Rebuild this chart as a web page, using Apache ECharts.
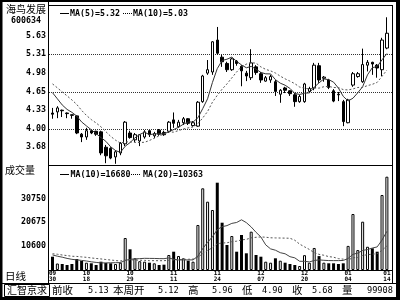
<!DOCTYPE html>
<html><head><meta charset="utf-8">
<script src="https://cdn.jsdelivr.net/npm/echarts@6/dist/echarts.min.js"></script>
<style>html,body{margin:0;padding:0;background:#fff}#c{width:400px;height:300px}</style>
</head><body><div id="c"></div>
<script>
// ---- data ----
const dates = ['09/30','10/08','10/11','10/12','10/13','10/14','10/15','10/18','10/19','10/20',
'10/21','10/22','10/25','10/26','10/27','10/28','10/29','11/01','11/02','11/03',
'11/04','11/05','11/08','11/09','11/10','11/11','11/12','11/15','11/16','11/17',
'11/18','11/19','11/22','11/23','11/24','11/25','11/26','11/29','11/30','12/01',
'12/02','12/03','12/06','12/07','12/08','12/09','12/10','12/13','12/14','12/15',
'12/16','12/17','12/20','12/21','12/22','12/23','12/24','12/27','12/28','12/29',
'12/30','01/04','01/05','01/06','01/07','01/10','01/11','01/12','01/13','01/14'];
const opens = [4.28,4.30,4.33,4.28,4.25,4.23,3.91,3.86,3.97,3.96,
3.95,3.68,3.66,3.51,3.58,3.74,3.93,3.81,3.79,3.86,
3.97,3.88,3.98,3.94,3.96,4.16,4.04,4.11,4.18,4.06,
4.05,4.48,4.98,5.00,5.56,5.26,5.15,5.04,5.19,5.10,
4.98,4.90,5.09,4.97,4.84,4.86,4.83,4.61,4.72,4.67,
4.60,4.48,4.48,4.66,4.72,5.11,4.89,4.86,4.67,4.61,
4.48,4.11,4.77,4.92,4.83,5.12,5.17,5.12,5.04,5.42];
const closes = [4.26,4.37,4.32,4.27,4.24,3.93,3.86,3.97,3.93,3.91,
3.58,3.53,3.49,3.60,3.75,4.12,3.85,3.90,3.90,3.95,
3.90,3.92,3.91,3.90,4.12,4.10,4.12,4.18,4.10,4.11,
4.47,4.93,5.04,5.53,5.33,5.18,5.04,5.23,5.15,5.02,
4.93,5.16,4.99,4.86,4.90,4.92,4.66,4.68,4.68,4.62,
4.48,4.57,4.79,4.71,5.12,4.86,4.91,4.73,4.49,4.60,
4.13,4.51,4.97,4.97,5.13,5.17,5.14,5.07,5.56,5.68];
const lows = [4.18,4.19,4.21,4.19,4.18,3.91,3.77,3.81,3.91,3.88,
3.54,3.40,3.47,3.39,3.54,3.70,3.83,3.77,3.70,3.83,
3.86,3.84,3.88,3.88,3.93,4.02,4.02,4.07,4.07,4.04,
4.04,4.46,4.95,4.95,5.30,5.09,5.00,5.02,5.11,4.75,
4.84,4.86,4.95,4.81,4.83,4.81,4.58,4.46,4.63,4.58,
4.39,4.46,4.46,4.63,4.68,4.81,4.83,4.70,4.47,4.49,
4.05,4.10,4.74,4.90,4.81,5.01,4.95,4.90,4.93,5.40];
const highs = [4.37,4.40,4.34,4.29,4.25,4.24,3.93,4.02,3.98,3.97,
3.97,3.72,3.68,3.63,3.77,4.14,3.97,3.93,3.91,3.98,
3.98,3.95,4.00,3.97,4.14,4.29,4.16,4.21,4.19,4.14,
4.49,4.95,5.21,5.54,5.79,5.30,5.18,5.25,5.21,5.12,
5.02,5.40,5.12,5.00,4.93,4.95,4.86,4.70,4.74,4.68,
4.63,4.60,4.81,4.74,5.16,5.16,4.93,4.88,4.70,4.65,
4.51,4.53,5.00,5.00,5.41,5.21,5.18,5.14,5.60,5.96];
const volumes = [5739,2800,2589,2158,2589,4747,3884,3150,2890,2158,
3581,3020,2890,2589,3150,13808,8932,5048,3800,3600,
3150,2890,2158,2300,6472,7896,6041,5048,4013,3581,
19418,35254,29471,25890,37670,20410,10788,14671,7896,15103,
7206,16526,6472,5739,3581,3150,5048,4013,3150,2589,
2158,1726,6400,3157,9500,6000,3150,2890,2890,2589,
2890,10400,24164,8597,20841,10026,9364,7896,32363,40259];
// closes / volumes before 09/30 (off-chart), estimated from where the MA lines start
const priorCloses = [5.06,5.03,4.97,4.95,4.72,4.90,4.86,4.66,4.50];
const priorVolumes = [6800,9200,7100,8400,6300,7900,6900,8100,7000,7300,8200,6900,7400,6636,7100,6200,5600,6425,4800];
const priceTicks = [3.68,4.00,4.33,4.65,4.98,5.31,5.63];
const priceTickLabels = ['3.68','4.00','4.33','4.65','4.98','5.31','5.63'];
const priceGridValues = [4.00,4.65,5.31];
const volTicks = [10600,20675,30750];
const volTickLabels = ['10600','20675','30750'];
const dateLabelIdx = [0,7,16,25,34,43,52,61,69];
const stockName = '海鸟发展', stockCode = '600634';
const priceTitle = ['MA(5)=5.32','MA(10)=5.03'];
const volTitle = ['MA(10)=16680','MA(20)=10363'];
const infoItems = [['前收','5.13'],['本周开','5.12'],['高','5.96'],['低','4.90'],['收','5.68'],['量','99908']];

function movingAvg(values, prior, n) {
  const all = prior.concat(values);
  return values.map((_, i) => {
    const end = prior.length + i;
    let s = 0;
    for (let k = end - n + 1; k <= end; k++) s += all[k];
    return +(s / n).toFixed(4);
  });
}
const ma5 = movingAvg(closes, priorCloses, 5);
const ma10 = movingAvg(closes, priorCloses, 10);
const vma10 = movingAvg(volumes, priorVolumes, 10);
const vma20 = movingAvg(volumes, priorVolumes, 20);

const chart = echarts.init(document.getElementById('c'), null, {renderer:'canvas', width:400, height:300});
const GL = 50.1, GW = 339.2;
const hideAxis = {axisLine:{show:false}, axisTick:{show:false}, axisLabel:{show:false}, splitLine:{show:false}};
const MONO = '"DejaVu Sans Mono"';
const CJK = '"Noto Sans CJK SC"';

chart.setOption({
  animation:false,
  backgroundColor:'#fff',
  textStyle:{fontFamily:'DejaVu Sans Mono'},
  grid:[{left:GL, width:GW, top:5, height:160},{left:GL, width:GW, top:165, height:105}],
  xAxis:[
    Object.assign({type:'category', gridIndex:0, data:dates, boundaryGap:true}, hideAxis),
    {type:'category', gridIndex:1, data:dates, boundaryGap:true,
     axisLine:{show:false}, axisTick:{show:false}, splitLine:{show:false},
     axisLabel:{show:true, interval:(idx)=>dateLabelIdx.indexOf(idx) >= 0,
       formatter:(v)=>v.replace('/','\n'), fontSize:6, lineHeight:6.5,
       fontFamily:'DejaVu Sans Mono', fontWeight:'bold', color:'#000', margin:0}}
  ],
  yAxis:[
    Object.assign({type:'value', gridIndex:0, min:3.3684, max:6.1754}, hideAxis),
    Object.assign({type:'value', gridIndex:1, min:0, max:45308}, hideAxis)
  ],
  series:[
    {type:'candlestick', xAxisIndex:0, yAxisIndex:0, barWidth:3,
     data:dates.map((_,i)=>[opens[i], closes[i], lows[i], highs[i]]),
     itemStyle:{color:'#fff', color0:'#000', borderColor:'#000', borderColor0:'#000', borderColorDoji:'#000', borderWidth:1}},
    {type:'line', xAxisIndex:0, yAxisIndex:0, data:ma5, symbol:'none', lineStyle:{color:'#333', width:1}},
    {type:'line', xAxisIndex:0, yAxisIndex:0, data:ma10, symbol:'none', lineStyle:{color:'#555', width:1, type:[2,2]}},
    {type:'bar', xAxisIndex:1, yAxisIndex:1, barWidth:3,
     data:volumes.map((v,i)=>({value:v, itemStyle: closes[i] >= opens[i]
       ? {color:'#fff', borderColor:'#000', borderWidth:1}
       : {color:'#000', borderColor:'#000', borderWidth:0}}))},
    {type:'line', xAxisIndex:1, yAxisIndex:1, data:vma10, symbol:'none', lineStyle:{color:'#444', width:1}},
    {type:'line', xAxisIndex:1, yAxisIndex:1, data:vma20, symbol:'none', lineStyle:{color:'#555', width:1, type:[2,2]}}
  ]
});

const yP = v => chart.convertToPixel({yAxisIndex:0}, v);
const yV = v => chart.convertToPixel({yAxisIndex:1}, v);
const els = [];
function txt(text, x, y, font, align) {
  els.push({type:'text', x:x, y:y, z:50, style:{text:text, font:font, fill:'#000',
    align:align||'left', textAlign:align||'left', verticalAlign:'middle', textVerticalAlign:'middle'}});
}
function line(x1,y1,x2,y2,dash,color,z) {
  els.push({type:'line', z:z===undefined?60:z, shape:{x1:x1,y1:y1,x2:x2,y2:y2},
    style:{stroke:color||'#000', lineWidth:1, lineDash:dash||null}});
}
// gridlines
priceGridValues.forEach(v => { const y = Math.round(yP(v)) + 0.5; line(49, y, 392, y, [1,1], '#333', 0); });
// frames
els.push({type:'rect', z:70, shape:{x:0,y:0,width:2.5,height:300}, style:{fill:'#000'}});
els.push({type:'rect', z:70, shape:{x:0,y:0,width:400,height:2}, style:{fill:'#000'}});
els.push({type:'rect', z:70, shape:{x:396,y:0,width:4,height:300}, style:{fill:'#000'}});
els.push({type:'rect', z:70, shape:{x:0,y:297,width:400,height:3}, style:{fill:'#000'}});
line(48.5, 2, 48.5, 283);
line(48, 5.5, 393, 5.5);
line(392.5, 5, 392.5, 283);
line(48, 165.5, 393, 165.5);
line(48, 270.5, 393, 270.5);
line(0, 283.5, 396, 283.5);
// tick labels
const F9 = 'bold 8.3px ' + MONO;
priceTicks.forEach((v,i) => txt(priceTickLabels[i], 46, yP(v), F9, 'right'));
volTicks.forEach((v,i) => txt(volTickLabels[i], 46, yV(v), F9, 'right'));
// left captions
txt(stockName, 6, 9.5, '10px ' + CJK);
txt(stockCode, 11, 20.5, F9);
txt('成交量', 5, 170.5, '10px ' + CJK);
txt('日线', 5, 276.5, '10.5px ' + CJK);
// price title
line(60, 13.5, 69, 13.5, null, '#000', 50);
txt(priceTitle[0], 70, 13.5, F9);
line(123, 13.5, 132, 13.5, [1,1], '#000', 50);
txt(priceTitle[1], 133, 13.5, F9);
// volume title
line(60, 174.5, 69, 174.5, null, '#000', 50);
txt(volTitle[0], 70.5, 174.5, F9);
line(131, 174.5, 141, 174.5, [1,1], '#000', 50);
txt(volTitle[1], 143, 174.5, F9);
// info bar
els.push({type:'rect', z:60, shape:{x:4.5,y:284.5,width:45,height:12}, style:{fill:null, stroke:'#000', lineWidth:1}});
txt('汇智京求', 7, 290.5, '10px ' + CJK);
const infoX = [[52,88],[113,158],[188,212],[242,262],[292,312],[342,367]];
infoItems.forEach((it,i) => { txt(it[0], infoX[i][0], 290.5, '10.5px ' + CJK); txt(it[1], infoX[i][1], 290.5, '8.6px ' + MONO); });
chart.setOption({graphic:{elements:els}});
</script></body></html>
